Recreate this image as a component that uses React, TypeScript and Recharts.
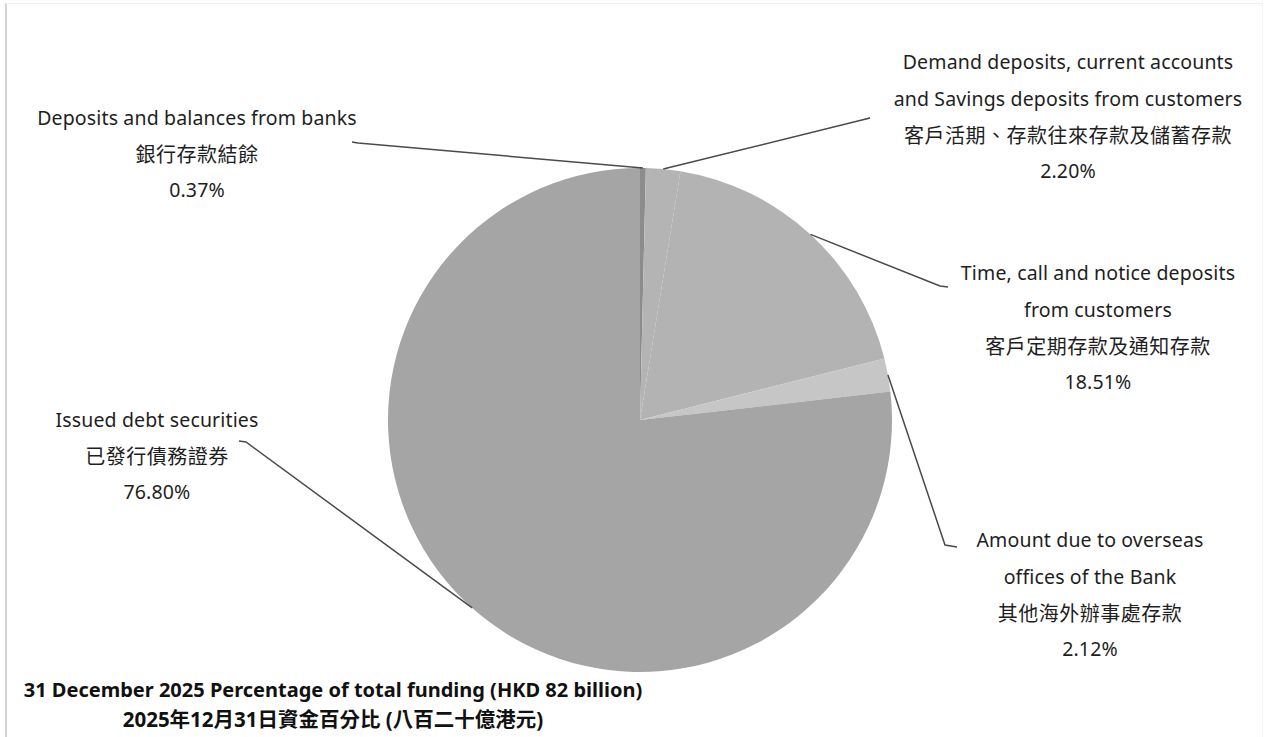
import { PieChart, Pie, Cell } from 'recharts';

const CATEGORIES_EN = [
  ['Deposits and balances from banks'],
  ['Demand deposits, current accounts', 'and Savings deposits from customers'],
  ['Time, call and notice deposits', 'from customers'],
  ['Amount due to overseas', 'offices of the Bank'],
  ['Issued debt securities'],
];
const CATEGORIES_ZH = ['銀行存款結餘', '客戶活期、存款往來存款及儲蓄存款', '客戶定期存款及通知存款', '其他海外辦事處存款', '已發行債務證券'];
const SHARES = [0.37, 2.2, 18.51, 2.12, 76.8];

const TITLE_EN = '31 December 2025 Percentage of total funding (HKD 82 billion)';
const TITLE_ZH = '2025年12月31日資金百分比 (八百二十億港元)';

const COLORS = ['#8c8c8c', '#b4b4b4', '#b3b3b3', '#c6c6c6', '#a5a5a5'];

// label block layout: text centre x, first line y, leader line end (+ small hook)
const LABEL_LAYOUT = [
  { x: 197, y: 117, end: [358, 143], hook: [352, 142] },
  { x: 1068, y: 61, end: [870, 118], hook: [865, 119] },
  { x: 1098, y: 272, end: [940, 286], hook: [948, 287] },
  { x: 1090, y: 539, end: [945, 545], hook: [957, 547] },
  { x: 157, y: 419, end: [246, 442], hook: [239, 441] },
];

const data = SHARES.map((v, i) => ({ name: CATEGORIES_EN[i].join(' '), zh: CATEGORIES_ZH[i], value: v }));

const FONT = "'Noto Sans', 'Noto Sans CJK TC', sans-serif";
const RAD = Math.PI / 180;
const LINE = 37;

const renderLabel = (props: any) => {
  const { cx, cy, midAngle, outerRadius, index } = props;
  const layout = LABEL_LAYOUT[index];
  const sx = cx + outerRadius * Math.cos(-midAngle * RAD);
  const sy = cy + outerRadius * Math.sin(-midAngle * RAD);
  const en = CATEGORIES_EN[index];
  const lines = [...en, CATEGORIES_ZH[index], `${SHARES[index].toFixed(2)}%`];
  return (
    <g key={`lbl-${index}`}>
      <polyline
        points={`${sx},${sy} ${layout.end[0]},${layout.end[1]} ${layout.hook[0]},${layout.hook[1]}`}
        fill="none"
        stroke="#4a4a4a"
        strokeWidth={1.5}
      />
      {lines.map((t, j) => {
        const zh = j === en.length;
        return (
          <text
            key={j}
            x={layout.x}
            y={layout.y + j * LINE - (j > en.length ? 2 : 0)}
            textAnchor="middle"
            dominantBaseline="central"
            fontFamily={FONT}
            fontSize={zh ? 20 : 19.5}
            letterSpacing={zh ? 0.5 : 0.15}
            fill="#1e1e1e"
          >
            {t}
          </text>
        );
      })}
    </g>
  );
};

export default function App() {
  return (
    <div style={{ position: 'absolute', left: 0, top: 0, width: 1266, height: 737, background: '#fff' }}>
      <div
        style={{
          position: 'absolute',
          left: 5,
          top: 3,
          width: 1258,
          height: 734,
          borderLeft: '2px solid #d4d4d4',
          borderTop: '1px solid #f0f0f0',
          borderRight: '1px solid #f4f4f4',
          boxSizing: 'border-box',
        }}
      />
      <PieChart
        width={1266}
        height={737}
        margin={{ top: 0, right: 0, bottom: 0, left: 0 }}
        style={{ position: 'absolute', left: 0, top: 0 }}
      >
        <Pie
          data={data}
          dataKey="value"
          nameKey="name"
          cx={640}
          cy={420}
          outerRadius={252}
          startAngle={90}
          endAngle={-270}
          stroke="none"
          label={renderLabel}
          labelLine={false}
          isAnimationActive={false}
        >
          {data.map((d, i) => (
            <Cell key={d.name} fill={COLORS[i]} />
          ))}
        </Pie>
        <text x={333} y={689} textAnchor="middle" dominantBaseline="central" fontFamily={FONT} fontSize={20} fontWeight="bold" fill="#111">
          {TITLE_EN}
        </text>
        <text x={333} y={719} textAnchor="middle" dominantBaseline="central" fontFamily={FONT} fontSize={20.5} fontWeight="bold" fill="#111">
          {TITLE_ZH}
        </text>
      </PieChart>
    </div>
  );
}
